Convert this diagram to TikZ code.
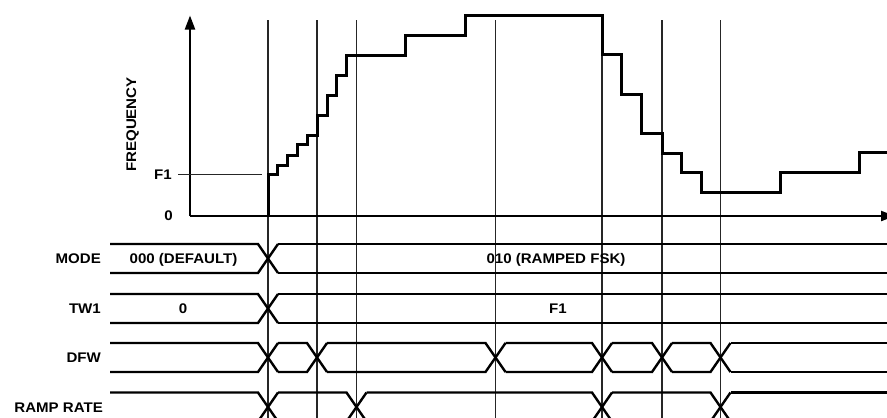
\documentclass[tikz,border=0pt]{standalone}
\usepackage{fontspec}
\setmainfont{Liberation Sans}[FakeStretch=1.08]
\usetikzlibrary{arrows.meta}
\tikzset{
  lbl/.style={font=\fontsize{14}{16}\selectfont\bfseries, inner sep=0pt, text height=10bp, text depth=0pt},
  bus/.style={line width=2.4bp, line join=miter},
  guide/.style={line width=1.1bp, black!85},
  axis/.style={line width=2.2bp},
  stair/.style={line width=3bp, line join=miter},
}
\newcommand\busrow[2]{%
  \gdef\busprev{110}%
  \foreach \t in {#2}{%
    \draw[bus] (\busprev,#1) -- ({\t-10},#1) -- ({\t+10},{#1+29});
    \draw[bus] (\busprev,{#1+29}) -- ({\t-10},{#1+29}) -- ({\t+10},#1);
    \pgfmathsetmacro\busnx{\t+10}\xdef\busprev{\busnx}%
  }%
  \draw[bus] (\busprev,#1) -- (890,#1);
  \draw[bus] (\busprev,{#1+29}) -- (890,{#1+29});
}
\begin{document}
\begin{tikzpicture}[x=1bp,y=-1bp]
\useasboundingbox (0,0) rectangle (887,417);
\clip (0,0) rectangle (887,417);
% guide lines
\foreach \gx in {268,317,356.5,495.5,602,662,720.5}{
  \draw[guide] (\gx,20) -- (\gx,420);
}
% axes
\coordinate (origin) at (190,216);
\coordinate (ytip) at (190,15.5);
\coordinate (xtip) at (895,216);
\draw[axis,-{Triangle[width=10bp,length=14bp]}] (origin) -- (ytip);
\draw[axis,-{Triangle[width=10bp,length=14bp]}] (origin) -- (xtip);
% axis labels
\node[lbl,rotate=90] (freq) at (131,124.5) {FREQUENCY};
\node[lbl,anchor=east] (f1lbl) at (172,174.5) {F1};
\node[lbl,anchor=east] (zerolbl) at (173,215) {0};
\coordinate (f1a) at (178,174.5);
\coordinate (f1b) at (262,174.5);
\draw[guide] (f1a) -- (f1b);
% frequency staircase
\draw[stair] (268,216) -- (268,174.5) -- (277,174.5) -- (277,165) -- (287,165) -- (287,155)
  -- (297,155) -- (297,144.5) -- (307,144.5) -- (307,135) -- (317,135) -- (317,115)
  -- (327,115) -- (327,95) -- (336.5,95) -- (336.5,75) -- (346.5,75) -- (346.5,55)
  -- (405,55) -- (405,35) -- (465,35) -- (465,15.5) -- (602,15.5) -- (602,54.5)
  -- (621,54.5) -- (621,94) -- (641,94) -- (641,133) -- (662,133) -- (662,153)
  -- (681,153) -- (681,172.5) -- (701,172.5) -- (701,192.5) -- (780,192.5)
  -- (780,172.5) -- (859,172.5) -- (859,152.5) -- (890,152.5);
% timing rows
\busrow{244}{268}
\busrow{294}{268}
\busrow{343}{268,317,495.5,602,662,720.5}
\busrow{392.5}{268,356.5,602,720.5}
% row labels
\node[lbl,anchor=east] (mode) at (101,258.5) {MODE};
\node[lbl,anchor=east] (tw1) at (101,308.5) {TW1};
\node[lbl,anchor=east] (dfw) at (101,357.5) {DFW};
\node[lbl,anchor=east] (ramp) at (103,407) {RAMP RATE};
% values
\node[lbl] (mode0) at (183.5,258.5) {000 (DEFAULT)};
\node[lbl] (mode1) at (556,258.5) {010 (RAMPED FSK)};
\node[lbl] (tw0) at (183,308.5) {0};
\node[lbl] (twf) at (558,308.5) {F1};
\end{tikzpicture}
\end{document}
